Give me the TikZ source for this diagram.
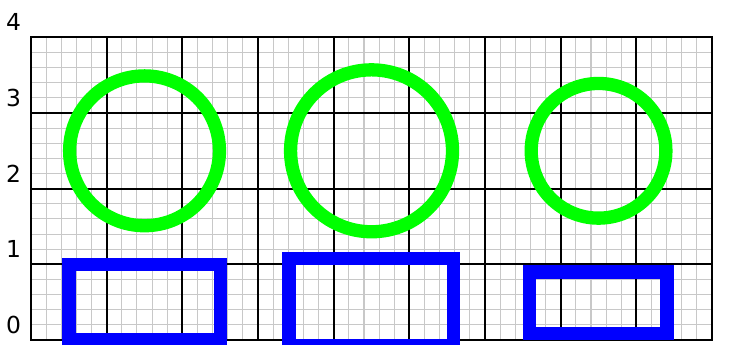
\documentclass[tikz,border=0pt]{standalone}
\usepackage{fontspec}
\newfontfamily\labfont{DejaVu Sans}
\definecolor{puregreen}{RGB}{0,255,0}
\definecolor{pureblue}{RGB}{0,0,255}
\definecolor{minorgray}{RGB}{200,200,200}
\tikzset{
  minorgrid/.style={draw=minorgray, line width=0.4pt},
  majorgrid/.style={draw=black, line width=0.75pt},
  ring/.style={draw=puregreen, line width=5pt},
  bluebox/.style={draw=pureblue, line width=5pt},
  axislabel/.style={font=\labfont\fontsize{8.8}{10}\selectfont, inner sep=0pt, anchor=center}
}
\begin{document}
\begin{tikzpicture}
\useasboundingbox (-0.41,-0.066) rectangle (9.224,4.493);
\draw[minorgrid] (0,0) grid[step=0.2] (9,4);
\draw[majorgrid] (0,0) grid[step=1] (9,4);
\draw[majorgrid] (0,0) rectangle (9,4);
\foreach \k in {0,1,2,3,4} {
  \node[axislabel] (lab\k) at (-0.23,\k+0.2) {\k};
}
\coordinate (c1) at (1.5,2.5);
\coordinate (c2) at (4.5,2.5);
\coordinate (c3) at (7.5,2.5);
\draw[ring] (c1) circle[radius=0.99];
\draw[ring] (c2) circle[radius=1.07];
\draw[ring] (c3) circle[radius=0.89];
\draw[bluebox] (0.5,0) rectangle (2.5,1);
\draw[bluebox] (3.41,-0.08) rectangle (5.585,1.075);
\draw[bluebox] (6.585,0.09) rectangle (8.405,0.9);
\end{tikzpicture}
\end{document}
